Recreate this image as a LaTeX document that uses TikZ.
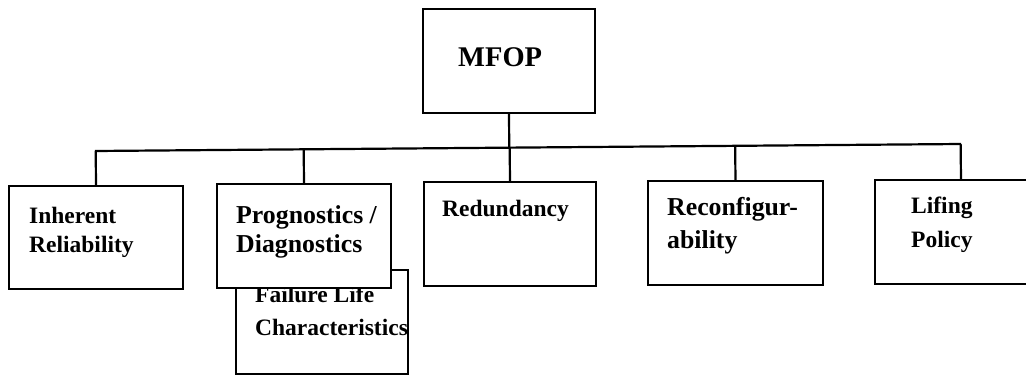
\documentclass[tikz,border=0pt]{standalone}
\usepackage{fontspec}
\setmainfont{Liberation Serif}
\usetikzlibrary{calc}
\begin{document}
\begin{tikzpicture}[x=1pt,y=-1pt,
  box/.style={draw,line width=2.2pt,fill=white,rectangle,inner sep=0pt,outer sep=0pt,
              minimum width=173pt,minimum height=103pt,anchor=north west},
  lbl/.style={anchor=base west,inner sep=0pt,font=\bfseries\fontsize{23.5}{28}\selectfont},
  lblbig/.style={lbl,font=\bfseries\fontsize{25.8}{30}\selectfont},
  link/.style={line width=2.2pt}]
\useasboundingbox (0,0) rectangle (1026,375);
\clip (0,0) rectangle (1026,375);

% top box
\node[box,minimum width=172pt,minimum height=104pt] (mfop) at (423,9) {};
\node[anchor=base west,inner sep=0pt,font=\bfseries\fontsize{28.5}{34}\selectfont] (mfopT) at (458,66) {MFOP};

% horizontal distribution line
\coordinate (busL) at (95,151);
\coordinate (busR) at (961,144);
\draw[link] (busL) -- (busR);

% lower-level boxes
\node[box,minimum width=174pt] (inh) at (9,186) {};
\node[lbl] (inhA) at (29,223) {Inherent};
\node[lbl] (inhB) at (29,252) {Reliability};

\node[box,minimum width=172pt,minimum height=104pt] (fail) at (236,270) {};
\node[lbl] (failA) at (255,302) {Failure Life};
\node[lbl] (failB) at (255,335) {Characteristics};

\node[box,minimum width=174pt,minimum height=104pt] (prog) at (217,184) {};
\node[lblbig] (progA) at (236,223) {Prognostics /};
\node[lblbig] (progB) at (236,252) {Diagnostics};

\node[box,minimum width=172pt,minimum height=104pt] (red) at (424,182) {};
\node[lbl] (redA) at (442,216) {Redundancy};

\node[box,minimum width=175pt,minimum height=104pt] (rec) at (648,181) {};
\node[lblbig] (recA) at (667,215) {Reconfigur-};
\node[lblbig] (recB) at (667,248) {ability};

\node[box,minimum width=172pt,minimum height=104pt] (lif) at (875,180) {};
\node[lbl] (lifA) at (911,213) {Lifing};
\node[lbl] (lifB) at (911,247) {Policy};

% vertical drops
\draw[link] (mfop.south) -- ($(busL)!(mfop.south)!(busR)$);
\foreach \b in {inh,prog,red,rec,lif}
  \draw[link] (\b.north) -- ($(busL)!(\b.north)!(busR)$);
\end{tikzpicture}
\end{document}
